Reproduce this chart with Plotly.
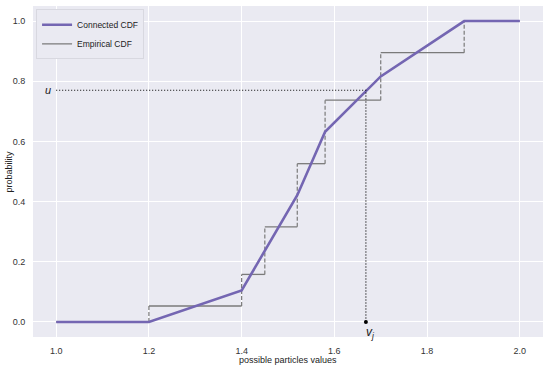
import plotly.graph_objects as go

# Data
connected_x = [1.0, 1.2, 1.4, 1.52, 1.58, 1.7, 1.88, 2.0]
connected_y = [0.0, 0.0, 0.105, 0.421, 0.632, 0.816, 1.0, 1.0]

step_x = [1.0, 1.2, 1.4, 1.45, 1.52, 1.58, 1.7, 1.88, 2.0]
step_y = [0.0, 0.053, 0.158, 0.316, 0.526, 0.737, 0.895, 1.0]

u_value = 0.77
v_value = 1.668
x_ticks = [1.0, 1.2, 1.4, 1.6, 1.8, 2.0]
y_ticks = [0.0, 0.2, 0.4, 0.6, 0.8, 1.0]

PURPLE = "#7466B2"
GRAY = "#7A7A7A"
FONT = "Liberation Sans, Arial, sans-serif"

# horizontal segments
hx, hy = [], []
for i, yv in enumerate(step_y):
    hx += [step_x[i], step_x[i + 1], None]
    hy += [yv, yv, None]
# vertical dashed segments
vx, vy = [], []
for i in range(1, len(step_y)):
    vx += [step_x[i], step_x[i], None]
    vy += [step_y[i - 1], step_y[i], None]

fig = go.Figure()
fig.add_trace(go.Scatter(x=hx, y=hy, mode="lines", line=dict(color=GRAY, width=1.3),
                         name="Empirical CDF", legendgroup="emp", legendrank=2))
fig.add_trace(go.Scatter(x=vx, y=vy, mode="lines", line=dict(color=GRAY, width=1.2, dash="4px,2px"),
                         showlegend=False, legendgroup="emp"))
fig.add_trace(go.Scatter(x=connected_x, y=connected_y, mode="lines",
                         line=dict(color=PURPLE, width=2.6), name="Connected CDF", legendrank=1))
# dotted guide lines
fig.add_trace(go.Scatter(x=[connected_x[0], v_value, v_value], y=[u_value, u_value, 0.0], mode="lines",
                         line=dict(color="black", width=1.2, dash="1px,2px"), showlegend=False))
fig.add_trace(go.Scatter(x=[v_value], y=[0.0], mode="markers",
                         marker=dict(color="black", size=4), showlegend=False))

fig.add_annotation(x=connected_x[0], y=u_value, text="<i>u</i>", showarrow=False,
                   xanchor="right", xshift=-3, font=dict(size=11, color="#222", family=FONT))
fig.add_annotation(x=v_value, y=0.0, text="<i>v<sub>j</sub></i>", showarrow=False,
                   xanchor="left", yanchor="top", xshift=-2, yshift=-1,
                   font=dict(size=12, color="#222", family=FONT))
# axis titles
fig.add_annotation(x=0.5, y=0, xref="paper", yref="paper", text="possible particles values",
                   showarrow=False, xanchor="center", yanchor="top", yshift=-16,
                   font=dict(size=9, color="#222", family=FONT))
fig.add_annotation(x=0, y=0.5, xref="paper", yref="paper", text="probability",
                   showarrow=False, xanchor="center", yanchor="middle", xshift=-25, textangle=-90,
                   font=dict(size=9, color="#222", family=FONT))

axis_common = dict(showgrid=True, gridcolor="white", gridwidth=1, zeroline=False,
                   showline=False, ticks="outside", tickcolor="rgba(0,0,0,0)", automargin=False,
                   tickfont=dict(size=9, color="#333", family=FONT))
fig.update_xaxes(range=[0.95, 2.05], tickvals=x_ticks, ticktext=[f"{t:.1f}" for t in x_ticks],
                 ticklen=5, **axis_common)
fig.update_yaxes(range=[-0.05, 1.05], tickvals=y_ticks, ticktext=[f"{t:.1f}" for t in y_ticks],
                 ticklen=5, **axis_common)

fig.update_layout(
    width=550, height=368,
    margin=dict(l=33, r=7, t=6, b=31),
    paper_bgcolor="white", plot_bgcolor="#EAEAF2",
    font=dict(family=FONT),
    legend=dict(x=0.006, y=0.99, xanchor="left", yanchor="top",
                bgcolor="#EAEAF2", bordercolor="#D8D8E0", borderwidth=1,
                font=dict(size=8.5, color="#222", family=FONT),
                tracegroupgap=0, itemwidth=30),
)

fig.write_html("out.html", config={"displayModeBar": False},
               post_script="document.body.style.margin='0';document.body.style.overflow='hidden';")
